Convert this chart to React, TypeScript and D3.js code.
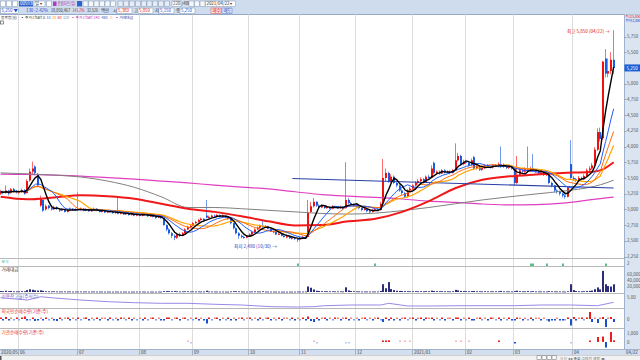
import React from 'react';
import * as d3 from 'd3';

// months shown on the date axis and trading days in each
const monthLabels = ['2020/05', '06', '07', '08', '09', '10', '11', '12', '2021/01', '02', '03', '04'];
const monthDays = [7, 22, 23, 20, 21, 19, 21, 21, 20, 18, 22, 16];

const priceTicks = [2250, 2500, 2750, 3000, 3250, 3500, 3750, 4000, 4250, 4500, 4750, 5000, 5500, 5750];
const volTicks = [20000, 40000, 60000];

// daily candles (May-20 .. Apr-21)
const opens = [
  3250, 3290, 3260, 3300, 3260, 3320, 3290,
  3270, 3280, 3310, 3260, 3460, 3600, 3680, 3560, 3060, 3150, 3000, 3060, 3020, 3000, 3030, 3010, 2980, 3000, 2960, 2990, 3010, 2990,
  3000, 2990, 3010, 2980, 3000, 2970, 2990, 3010, 2980, 2960, 2980, 2950, 2970, 2960, 2940, 2960, 2930, 2950, 2920, 2940, 2910, 2930, 2900,
  2920, 2900, 2930, 2910, 2890, 2900, 2880, 2870, 2890, 2860, 2750, 2680, 2620, 2580, 2550, 2600, 2580, 2620, 2680, 2720,
  2740, 2780, 2800, 2830, 2850, 2900, 2870, 2880, 2900, 2890, 2910, 2880, 2900, 2870, 2850, 2780, 2700, 2620, 2580, 2560, 2550,
  2570, 2600, 2640, 2680, 2710, 2740, 2720, 2730, 2690, 2650, 2640, 2600, 2610, 2580, 2560, 2570, 2540, 2550, 2530,
  2520, 2540, 2560, 2560, 2960, 3050, 3120, 3060, 3030, 3060, 3020, 3040, 3010, 3050, 3030, 3020, 3040, 3020, 3150, 3100, 3080,
  3060, 3050, 3020, 2990, 3010, 2970, 2960, 2980, 3000, 2990, 3100, 3500, 3580, 3450, 3520, 3420, 3380, 3300, 3260, 3200, 3300,
  3330, 3380, 3420, 3450, 3480, 3430, 3520, 3500, 3740, 3580, 3600, 3570, 3620, 3590, 3600, 3580, 3620, 3780, 3850, 3720,
  3760, 3740, 3700, 3830, 3650, 3680, 3630, 3660, 3700, 3680, 3670, 3700, 3690, 3720, 3680, 3700, 3660, 3680,
  3650, 3420, 3550, 3620, 3600, 3640, 3610, 3650, 3620, 3600, 3570, 3590, 3550, 3560, 3420, 3380, 3300, 3280, 3250, 3220, 3200, 3720,
  3500, 3480, 3460, 3500, 3480, 3530, 3620, 3650, 3700, 3950, 4230, 4130, 5400, 5160, 5200, 5380,
];
const highs = [
  3310, 3300, 3380, 3310, 3340, 3340, 3310,
  3300, 3330, 3320, 3480, 3650, 3760, 3700, 3580, 3220, 3160, 3080, 3070, 3040, 3060, 3050, 3020, 3020, 3010, 3010, 3030, 3020, 3020,
  3270, 3030, 3020, 3020, 3010, 3000, 3030, 3020, 2990, 3000, 2990, 2990, 2980, 2970, 2980, 3180, 2970, 2960, 2960, 2950, 2950, 2940, 2940,
  2930, 2950, 2940, 2920, 2920, 2910, 2890, 2900, 2900, 2870, 2760, 2700, 2640, 2600, 2620, 2630, 2640, 2700, 2740, 2760,
  2800, 2820, 2850, 2870, 2860, 3150, 2900, 2920, 2920, 2930, 2920, 2920, 2910, 2880, 2860, 2790, 2710, 2640, 2600, 2580, 2590,
  2620, 2660, 2700, 2730, 2760, 2820, 2750, 2740, 2700, 2670, 2650, 2630, 2620, 2590, 2590, 2580, 2570, 2560, 2550,
  2560, 2580, 2580, 3150, 3120, 3180, 3130, 3080, 3080, 3070, 3060, 3050, 3070, 3060, 3050, 3060, 3050, 3750, 3180, 3120, 3100,
  3080, 3060, 3030, 3030, 3020, 2990, 3000, 3020, 3020, 3120, 3800, 3650, 3600, 3560, 3540, 3440, 3400, 3320, 3280, 3320, 3360,
  3400, 3450, 3480, 3510, 3500, 3540, 3550, 3700, 3760, 3620, 3620, 3640, 3640, 3620, 3620, 3640, 4050, 3900, 3870, 3790,
  3790, 3760, 3810, 3850, 3710, 3700, 3690, 3720, 3720, 3700, 3720, 3720, 3750, 4000, 3730, 3720, 3710, 3700,
  3660, 3850, 3660, 3650, 3670, 4000, 3680, 3880, 3640, 3620, 3610, 3600, 3580, 3570, 3440, 3390, 3320, 3300, 3270, 3240, 3370, 4100,
  3530, 3500, 3530, 3520, 3560, 3650, 3690, 3740, 3990, 4290, 4300, 5360, 5550, 5400, 5500, 5850,
];
const lows = [
  3230, 3240, 3250, 3220, 3250, 3270, 3250,
  3240, 3260, 3230, 3250, 3440, 3560, 3540, 3360, 3040, 2960, 2980, 3000, 2980, 2990, 2990, 2960, 2970, 2950, 2950, 2980, 2980, 2980,
  2980, 2980, 2970, 2970, 2960, 2960, 2980, 2970, 2950, 2950, 2940, 2940, 2950, 2930, 2930, 2920, 2920, 2910, 2910, 2900, 2900, 2890, 2890,
  2890, 2890, 2900, 2880, 2880, 2870, 2850, 2860, 2850, 2740, 2650, 2600, 2540, 2510, 2530, 2560, 2570, 2610, 2670, 2700,
  2730, 2770, 2790, 2820, 2800, 2860, 2860, 2870, 2880, 2880, 2870, 2870, 2860, 2830, 2760, 2680, 2600, 2530, 2540, 2530, 2540,
  2560, 2590, 2630, 2670, 2700, 2710, 2710, 2680, 2640, 2620, 2590, 2590, 2570, 2550, 2540, 2530, 2520, 2510, 2480,
  2500, 2530, 2530, 2550, 2940, 3030, 3040, 3010, 3020, 3010, 3010, 3000, 3000, 3020, 3010, 3010, 3000, 3010, 3080, 3060, 3040,
  3030, 3000, 2970, 2980, 2950, 2940, 2950, 2970, 2980, 2980, 3090, 3450, 3420, 3420, 3400, 3350, 3280, 3230, 3180, 3190, 3280,
  3310, 3360, 3400, 3430, 3410, 3420, 3480, 3490, 3560, 3560, 3550, 3560, 3570, 3570, 3560, 3570, 3610, 3760, 3700, 3700,
  3720, 3680, 3690, 3630, 3630, 3610, 3610, 3640, 3660, 3650, 3650, 3670, 3680, 3660, 3660, 3640, 3640, 3630,
  3380, 3400, 3530, 3580, 3580, 3590, 3590, 3600, 3580, 3550, 3550, 3530, 3530, 3400, 3350, 3270, 3250, 3220, 3190, 3170, 3190, 3480,
  3450, 3430, 3450, 3460, 3470, 3520, 3600, 3630, 3690, 3930, 4080, 4100, 5100, 5100, 5150, 5150,
];
const closes = [
  3280, 3260, 3300, 3250, 3320, 3290, 3270,
  3280, 3300, 3250, 3450, 3600, 3650, 3580, 3380, 3180, 2980, 3050, 3020, 3000, 3030, 3010, 2980, 3000, 2960, 2990, 3010, 2990, 3000,
  2990, 3010, 2980, 3000, 2970, 2990, 3010, 2980, 2960, 2980, 2950, 2970, 2960, 2940, 2960, 2930, 2950, 2920, 2940, 2910, 2930, 2900, 2920,
  2900, 2930, 2910, 2890, 2900, 2880, 2870, 2890, 2860, 2750, 2680, 2620, 2580, 2550, 2600, 2580, 2620, 2680, 2720, 2740,
  2780, 2800, 2830, 2850, 2820, 2870, 2880, 2900, 2890, 2910, 2880, 2900, 2870, 2850, 2780, 2700, 2620, 2580, 2560, 2550, 2570,
  2600, 2640, 2680, 2710, 2740, 2720, 2730, 2690, 2650, 2640, 2600, 2610, 2580, 2560, 2570, 2540, 2550, 2530, 2520,
  2540, 2560, 2550, 2950, 3050, 3120, 3060, 3030, 3060, 3020, 3040, 3010, 3050, 3030, 3020, 3040, 3010, 3150, 3100, 3080, 3060,
  3050, 3020, 2990, 3010, 2970, 2960, 2980, 3000, 2990, 3090, 3500, 3580, 3450, 3520, 3420, 3380, 3300, 3260, 3200, 3300, 3330,
  3380, 3420, 3450, 3480, 3430, 3520, 3500, 3650, 3580, 3600, 3570, 3620, 3590, 3600, 3580, 3620, 3780, 3850, 3720, 3760,
  3740, 3700, 3780, 3650, 3680, 3630, 3660, 3700, 3680, 3670, 3700, 3690, 3720, 3680, 3700, 3660, 3680, 3650,
  3420, 3550, 3620, 3600, 3640, 3610, 3650, 3620, 3600, 3570, 3590, 3550, 3560, 3420, 3380, 3300, 3280, 3250, 3220, 3200, 3350, 3500,
  3480, 3460, 3500, 3480, 3530, 3620, 3650, 3700, 3950, 4230, 4120, 5350, 5160, 5200, 5380, 5250,
];

// 거래대금 (백만원)
const tradeValue = [
  3200, 2400, 4100, 2600, 3500, 2200, 2000,
  2100, 2600, 2300, 6200, 9100, 7400, 5200, 4800, 5600, 3900, 2500, 2200, 1900, 2400, 1800, 1700, 1600, 1900, 1500, 1800, 1400, 1600,
  1500, 1700, 1400, 1600, 1300, 1500, 1700, 1400, 1300, 1500, 1200, 1400, 1300, 1200, 1500, 1100, 1300, 1200, 1400, 1100, 1300, 1200, 1400,
  1300, 1500, 1200, 1100, 1300, 1200, 1100, 1400, 1200, 2800, 3100, 2600, 2400, 2900, 2200, 1800, 1900, 2300, 2100, 1800,
  1900, 1700, 1800, 1600, 1500, 4200, 1700, 1600, 1400, 1500, 1300, 1400, 1300, 1200, 2100, 2600, 2400, 2000, 1700, 1500, 1400,
  1500, 1800, 1900, 1700, 1600, 2400, 1500, 1400, 1300, 1400, 1200, 1300, 1100, 1200, 1100, 1300, 1000, 1200, 1500,
  1400, 1600, 1500, 18500, 14200, 8300, 4100, 3200, 2800, 2500, 2300, 2100, 2400, 2000, 1900, 2200, 1800, 15600, 5200, 3100, 2600,
  2200, 1900, 1700, 1800, 1600, 1500, 1700, 1600, 1800, 3500, 26000, 12500, 33000, 9800, 6200, 4100, 3500, 3200, 2900, 2600, 2400,
  2500, 2700, 2300, 2600, 2200, 2800, 2400, 4600, 3300, 2600, 2400, 2700, 2300, 2200, 2100, 2500, 7200, 5400, 3600, 3000,
  2600, 2400, 3100, 3400, 2500, 2300, 2200, 2400, 2100, 2000, 2200, 2100, 2300, 3600, 2100, 2000, 1900, 1800,
  2900, 4300, 2600, 2200, 2100, 3200, 2000, 2800, 1900, 1800, 1900, 1800, 1700, 2600, 2200, 2000, 1800, 1700, 1600, 1500, 2400, 26000,
  6400, 3100, 2500, 2200, 2600, 3300, 3600, 4800, 9400, 15200, 8600, 70500, 25800, 19800, 18200, 25600,
];

// 외국인 순매수량 (천주)
const foreignNet = [
  1, -1, 2, -1, 0.5, -0.5, 1,
  -0.5, 1, 2.5, -1, -0.5, 1, -2, -1.5, 0.5, -1, 1, -0.5, 0.5, -1, -2, 1, -0.5, 0.5, 1, -1, 0.5, -0.5,
  1, -0.5, 0.5, 1, -1, 0.5, -0.5, 1, -1, 0.5, 0.5, -1, 1, -0.5, 0.5, -1, 1, 0.5, -0.5, 1, -1, 0.5, -0.5,
  0.5, -1, 1, -0.5, 0.5, 1, -0.5, 0.5, -1, -1.5, 1, 1.5, -0.5, 0.5, 1, -1, 0.5, 1.5, -0.5, 0.5,
  -0.5, 1, -1, 0.5, -1, -4.5, 1, -0.5, 0.5, 1, -1, 0.5, -0.5, 1, -1, 0.5, -1, 0.5, 1, -0.5, 0.5,
  1, -0.5, 0.5, -1, 1, -0.5, 0.5, 1, -1, 0.5, -0.5, 1, -1, 0.5, 0.5, -0.5, 1, -1, 0.5,
  -0.5, 1, -1, 2.5, -2, -3, 1.5, -1, 0.5, 1, -1, 0.5, -0.5, 1, 0.5, -1, 0.5, 1.5, -1, 0.5, -0.5,
  0.5, -1, 0.5, 1, -0.5, 0.5, -1, 0.5, 1, -0.5, -3, 1.5, -1, 1, -1.5, 0.5, -1, 0.5, 1, -0.5, 0.5,
  1, -1, 0.5, 1, -1.5, 1, 0.5, 1.5, -1, 0.5, -0.5, 1, -1, 0.5, 0.5, -1, 1.5, 1, -1, 0.5,
  -0.5, 1, -1, -1.5, 0.5, 1, -0.5, 0.5, -1, 1, 0.5, -0.5, 1, -1, 0.5, -0.5, 1, -1,
  -1.5, 1, 0.5, -1, 0.5, -0.5, 1, -1, 0.5, 0.5, -1, 0.5, -0.5, -2.5, -1.5, -1, 0.5, -1.5, -1, -0.5, 1.5, -6.5,
  2, -1, 0.5, 1.5, -0.5, 1, 7, -3, 0.5, -4, 0.5, 2, -8, 0.5, 2, -3,
];

// 기관 순매수량 (주) — only days with prints
const instIdx = [70, 71, 117, 118, 129, 130, 143, 144, 145, 149, 151, 153, 170, 172, 175, 186, 192, 213, 220, 223, 225, 226, 228, 229];
const instNet = [20, -20, 30, -30, -40, -30, 150, 80, 180, 40, 30, 40, 40, 30, 30, 120, -120, -40, 80, 550, 600, -620, 1100, 180];

// signal markers
const signalIdx = [111, 140, 198, 199, 204, 210, 226];

// long moving averages read at sample days
const longMaIdx = [0, 10, 20, 30, 40, 50, 60, 70, 80, 90, 100, 110, 120, 130, 140, 150, 160, 170, 180, 190, 200, 210, 220, 224, 229];
const ma60 = [3200, 3160, 3190, 3225, 3210, 3170, 3090, 3010, 2960, 2890, 2810, 2745, 2750, 2810, 2850, 2960, 3130, 3340, 3470, 3525, 3555, 3580, 3595, 3620, 3750];
const ma120 = [3580, 3565, 3545, 3515, 3450, 3350, 3200, 3030, 3030, 3010, 2985, 2960, 2935, 2925, 2940, 2980, 3030, 3090, 3150, 3200, 3245, 3290, 3350, 3390, 3465];
const ma240 = [3560, 3555, 3545, 3530, 3505, 3480, 3450, 3420, 3385, 3355, 3325, 3280, 3235, 3210, 3190, 3165, 3130, 3110, 3085, 3070, 3075, 3100, 3150, 3170, 3195];

// 신용잔고율 (%)
const creditIdx = [0, 10, 15, 20, 30, 40, 50, 60, 70, 80, 90, 101, 111, 117, 121, 131, 142, 145, 152, 162, 172, 182, 192, 202, 213, 223, 229];
const creditRatio = [4.97, 4.64, 5.11, 4.93, 4.64, 4.4, 4.26, 4.17, 4.17, 4.03, 3.93, 3.69, 3.64, 3.69, 3.83, 3.93, 3.93, 4.17, 3.79, 3.79, 3.83, 3.83, 3.83, 3.93, 3.93, 3.83, 4.31];

// user trend line
const trendIdx = [109, 229];
const trendVal = [3490, 3340];

// legend pieces: text, colour
const legendText = ['종목명(일)', '▪ 주가 Chart 5', '10', '20', '60', '120', '▪ 주가 Chart 240', '480', 'ㅁ', '▪ 거래대금'];
const legendColor = ['#333', '#333', '#1f5bff', '#ff8c00', '#f01010', '#888', '#c030b0', '#3050c0', '#ff8c00', '#2030a0'];

const FONT = "'Noto Sans CJK KR', 'Noto Sans', sans-serif";
const UP = '#f01010';
const DOWN = '#1a5ce0';

export default function App() {
  const n = closes.length;
  const axisX = 624;

  const x = d3.scaleBand<number>().domain(d3.range(n)).range([-0.7, 615]);
  const step = x.step();
  const cx = (i: number) => (x(i) ?? 0) + step / 2;

  const y = d3.scaleLinear().domain([2250, 5750]).range([256.5, 36.5]);
  const yVol = d3.scaleLinear().domain([0, 100000]).range([292, 262]);
  const yCredit = d3.scaleLinear().domain([3.5, 5.5]).range([308, 294]);
  const yForeign = d3.scaleLinear().domain([-10, 10]).range([329, 309]);
  const yInst = d3.scaleLinear().domain([-780, 1442]).range([349, 329]);

  const monthStart = monthDays.map((_, k) => d3.sum(monthDays.slice(0, k)));
  const gridX = monthStart.map(i => Math.round(x(i) ?? 0) + 0.5);

  // short MAs from closes
  const sma = (p: number) => closes.map((_, i) => d3.mean(closes.slice(Math.max(0, i - p + 1), i + 1)) as number);
  const shortMas = [
    { p: 20, color: '#ffa500', w: 1.2 },
    { p: 15, color: '#ff6a10', w: 1 },
    { p: 10, color: '#1f5bff', w: 1 },
    { p: 5, color: '#000000', w: 1.4 },
  ];
  const lineShort = d3.line<number>().x((_, i) => cx(i)).y(d => y(d));
  const lineLong = d3.line<number>().x((_, k) => cx(longMaIdx[k])).y(d => y(d)).curve(d3.curveMonotoneX);
  const lineCredit = d3.line<number>().x((_, k) => cx(creditIdx[k])).y(d => yCredit(d));

  const iMax = d3.maxIndex(highs);
  const iMin = d3.minIndex(lows);
  const fmt = d3.format(',');
  const last = closes[n - 1];

  const sep = [258.5, 266.5, 293.5, 308.5, 328.5];

  // legend layout: start x of each piece
  const legendX = [1, 20.5, 46.5, 52, 57.5, 63, 71, 101.5, 109.5, 115];

  const icon = (xx: number, yy: number, fill = '#fff', key?: any) => (
    <rect key={key ?? xx} x={xx} y={yy} width={5} height={5.5} fill={fill} stroke="#7f93b0" strokeWidth={0.5} />
  );

  return (
    <svg width={640} height={360} style={{ position: 'fixed', left: 0, top: 0, background: '#fff' }} fontFamily={FONT}>
      <defs>
        <clipPath id="mainClip"><rect x={0} y={14.5} width={axisX} height={244} /></clipPath>
      </defs>
      <rect x={0} y={0} width={640} height={360} fill="#fff" />

      {/* toolbar */}
      <g fontSize={4.4}>
        <rect x={0} y={0} width={640} height={14.5} fill="#cfdcee" />
        <line x1={0} x2={640} y1={14.5} y2={14.5} stroke="#93a9c8" />
        {[0.5, 6.5, 12.5].map(v => icon(v, 1))}
        <rect x={19} y={1} width={14} height={5.5} fill="#2f64cf" />
        <text x={20} y={5.3} fill="#fff">005930</text>
        <rect x={34} y={1} width={11} height={5.5} fill="#fff" stroke="#7f93b0" strokeWidth={0.5} />
        <text x={35} y={5.3} fill="#333">일 ▾</text>
        {icon(46.5, 1)}
        <rect x={53} y={1.5} width={3.5} height={4.5} fill="#b23cc2" />
        <text x={57.5} y={5.3} fill="#b0309a" textLength={18} lengthAdjust="spacingAndGlyphs">종합차트(일)</text>
        <rect x={77} y={1} width={5} height={5.5} fill="#2f64cf" />
        {d3.range(6).map(k => icon(83 + k * 5.5, 1, '#f4f7fb', 'a' + k))}
        {d3.range(9).map(k => icon(118 + k * 5.8, 1, '#e6edf6', 'b' + k))}
        <rect x={172} y={1} width={9} height={5.5} fill="#fff" stroke="#7f93b0" strokeWidth={0.5} />
        <text x={173} y={5.3} fill="#333">220</text>
        <text x={181.5} y={5.3} fill="#333">/480</text>
        {[189, 194.5, 200].map((v, k) => icon(v, 1, '#f4f7fb', 'c' + k))}
        <rect x={205.5} y={1} width={30} height={5.5} fill="#fff" stroke="#7f93b0" strokeWidth={0.5} />
        <text x={206.5} y={5.3} fill="#333">2021/04/22 ▾</text>

        <rect x={0.5} y={8} width={18} height={5.5} fill="#fff" stroke="#7f93b0" strokeWidth={0.5} />
        <text x={1.5} y={12.3} fill="#1d4fd0">{fmt(last)} ▼</text>
        <text x={26} y={12.3} fill="#1d4fd0">130</text>
        <text x={34} y={12.3} fill="#1d4fd0">-2.42%</text>
        <text x={51} y={12.3} fill="#333" textLength={19} lengthAdjust="spacingAndGlyphs">18,050,467</text>
        <text x={72.5} y={12.3} fill="#e02020" textLength={12} lengthAdjust="spacingAndGlyphs">141.2%</text>
        <text x={87} y={12.3} fill="#333" textLength={11} lengthAdjust="spacingAndGlyphs">32,526</text>
        <text x={101} y={12.3} fill="#333">백만</text>
        <text x={113} y={12.3} fill="#333">시</text>
        <rect x={117} y={8} width={15} height={5.5} fill="#fff" stroke="#7f93b0" strokeWidth={0.5} />
        <text x={118} y={12.3} fill="#e02020">{fmt(opens[n - 1])}</text>
        <text x={134} y={12.3} fill="#333">고</text>
        <rect x={138} y={8} width={15} height={5.5} fill="#fff" stroke="#7f93b0" strokeWidth={0.5} />
        <text x={139} y={12.3} fill="#e02020">{fmt(highs[n - 1])}</text>
        <text x={155} y={12.3} fill="#333">저</text>
        <rect x={159} y={8} width={15} height={5.5} fill="#fff" stroke="#7f93b0" strokeWidth={0.5} />
        <text x={160} y={12.3} fill="#1d4fd0">{fmt(lows[n - 1])}</text>
        <text x={176} y={12.3} fill="#333">종</text>
        <rect x={180} y={8} width={15} height={5.5} fill="#fff" stroke="#7f93b0" strokeWidth={0.5} />
        <text x={181} y={12.3} fill="#1d4fd0">{fmt(last)}</text>
        <rect x={211} y={8} width={10} height={5.5} fill="#fde2e2" stroke="#e05050" strokeWidth={0.5} />
        <text x={212.5} y={12.3} fill="#d02020">매수</text>
        <rect x={222} y={8} width={10} height={5.5} fill="#e3ebfb" stroke="#5070d0" strokeWidth={0.5} />
        <text x={223.5} y={12.3} fill="#2040b0">매도</text>
      </g>

      {/* month grid */}
      {gridX.slice(1).map((gx, k) => (
        <line key={k} x1={gx} x2={gx} y1={14.5} y2={349} stroke="#dcdcdc" strokeWidth={1} />
      ))}

      {/* legend */}
      {legendText.map((t, k) => (
        <text key={k} x={legendX[k]} y={19.2} fontSize={3.7} fill={legendColor[k]}>{t}</text>
      ))}
      <rect x={0.5} y={21} width={3} height={3} fill="#fff" stroke="#444" strokeWidth={0.6} />

      {/* main price panel */}
      <g clipPath="url(#mainClip)">
        {closes.map((c, i) => {
          const o = opens[i];
          const up = c >= o;
          const col = up ? UP : DOWN;
          const px = Math.round(cx(i) - 1);
          const top = y(Math.max(o, c));
          const bot = y(Math.min(o, c));
          return (
            <g key={i}>
              <line x1={px + 0.5} x2={px + 0.5} y1={y(Math.max(highs[i], o, c))} y2={y(Math.min(lows[i], o, c))}
                stroke={up ? '#ff6a6a' : '#6f9af0'} strokeWidth={1} />
              <rect x={px} y={top} width={2} height={Math.max(1, bot - top)} fill={col} />
            </g>
          );
        })}
        <path d={lineLong(ma240) ?? ''} fill="none" stroke="#e040c0" strokeWidth={1.2} />
        <path d={lineLong(ma120) ?? ''} fill="none" stroke="#808080" strokeWidth={1} />
        <path d={lineLong(ma60) ?? ''} fill="none" stroke="#f01818" strokeWidth={2} />
        <line x1={cx(trendIdx[0])} x2={cx(trendIdx[1])} y1={y(trendVal[0])} y2={y(trendVal[1])} stroke="#2a3fa8" strokeWidth={1.1} />
        {shortMas.map(m => (
          <path key={m.p} d={lineShort(sma(m.p)) ?? ''} fill="none" stroke={m.color} strokeWidth={m.w} />
        ))}
        <text x={cx(iMax) - 4} y={y(highs[iMax]) + 3} fontSize={4.6} fill="#e02020" textAnchor="end">
          최고 {fmt(highs[iMax])} (04/22) →
        </text>
        <text x={cx(iMin) - 21} y={y(lows[iMin]) + 5.5} fontSize={4.6} fill="#2040c0" textAnchor="end">
          최저 {fmt(lows[iMin])} (10/30) →
        </text>
      </g>

      {/* panel separators */}
      {sep.map(v => <line key={v} x1={0} x2={axisX} y1={v} y2={v} stroke="#b8b8b8" />)}

      {/* signal row */}
      <text x={1.5} y={263} fontSize={3.8} fill="#3cb371">분석</text>
      {signalIdx.map(i => (
        <rect key={i} x={Math.round(cx(i) - 1)} y={263.5} width={2} height={2.5} fill="#5cc08a" />
      ))}

      {/* trade value */}
      <text x={1.5} y={271} fontSize={4.6} fill="#333">거래대금</text>
      {tradeValue.map((v, i) => (
        <rect key={i} x={Math.round(cx(i) - 1)} y={yVol(v)} width={2} height={Math.max(0.8, yVol(0) - yVol(v))} fill="#2c2c7c" />
      ))}

      {/* credit ratio */}
      <text x={1.5} y={298} fontSize={4.6} fill="#6a5acd">신용잔고율(주식수)</text>
      <path d={lineCredit(creditRatio) ?? ''} fill="none" stroke="#9b88e6" strokeWidth={1} />

      {/* foreign net */}
      <text x={1.5} y={313} fontSize={4.6} fill="#e03030">외국인순매수량(기준:주)</text>
      {foreignNet.map((v, i) => {
        const y0 = yForeign(0), y1 = yForeign(v);
        const h = Math.max(1.5, Math.abs(y1 - y0));
        const pale = Math.abs(v) < 1;
        const col = v >= 0 ? (pale ? '#f08a8a' : '#ee1c1c') : (pale ? '#7fa3ea' : '#1a4fd0');
        return <rect key={i} x={Math.round(cx(i) - 1)} y={v >= 0 ? y0 - h : y0} width={2} height={h} fill={col} />;
      })}

      {/* institution net */}
      <text x={1.5} y={333.5} fontSize={4.6} fill="#e03030">기관순매수량(기준:주)</text>
      {instNet.map((v, k) => {
        const y0 = yInst(0), y1 = yInst(v);
        const h = Math.max(1.5, Math.abs(y1 - y0));
        const pale = Math.abs(v) < 60;
        const col = v >= 0 ? (pale ? '#f6b8b8' : '#ee1c1c') : (pale ? '#b8c8f0' : '#1a4fd0');
        return <rect key={k} x={Math.round(cx(instIdx[k]) - 1)} y={v >= 0 ? y0 - h : y0} width={2} height={h} fill={col} />;
      })}

      {/* right axis */}
      <rect x={axisX} y={14.5} width={16} height={335} fill="#dbe5f2" />
      <line x1={axisX + 0.5} x2={axisX + 0.5} y1={14.5} y2={349.5} stroke="#9fb3cf" />
      <g fontSize={4.5} fill="#555">
        <text x={625.5} y={17.5} fontSize={3.6} fill="#e02020">최고{fmt(highs[iMax])}</text>
        <text x={625.5} y={21.5} fontSize={3.6} fill="#2040c0">최저{fmt(lows[iMin])}</text>
        {priceTicks.map(v => (
          <g key={v}>
            <line x1={axisX + 0.5} x2={axisX + 2.5} y1={Math.round(y(v)) + 0.5} y2={Math.round(y(v)) + 0.5} stroke="#777" strokeWidth={0.6} />
            <text x={627} y={y(v) + 1.7}>{fmt(v)}</text>
          </g>
        ))}
        <rect x={axisX + 0.5} y={y(last) - 3.5} width={15.5} height={7} fill="#1b5fd6" />
        <text x={626.5} y={y(last) + 1.8} fill="#fff">{fmt(last)}</text>
        <text x={627} y={264.8}>2</text>
        {volTicks.map(v => (
          <text key={v} x={627} y={yVol(v) + 1.7}>{fmt(v)}</text>
        ))}
        <text x={627} y={yCredit(5) + 1.7}>5.00</text>
        <text x={627} y={yForeign(0) + 1.7}>0</text>
        <text x={627} y={yInst(1000) + 1.7}>1,000</text>
        <text x={627} y={yInst(0) + 1.7}>0</text>
      </g>

      {/* date axis */}
      <rect x={0} y={349.5} width={640} height={5.5} fill="#d3dfee" />
      <line x1={0} x2={640} y1={349.5} y2={349.5} stroke="#9fb3cf" />
      {monthLabels.map((m, k) => (
        <g key={m}>
          {k > 0 && <line x1={gridX[k]} x2={gridX[k]} y1={349.5} y2={355} stroke="#9fb3cf" />}
          <text x={k === 0 ? 1 : gridX[k] + 1.5} y={354.3} fontSize={4.5} fill="#444">{m}</text>
        </g>
      ))}
      <text x={626} y={354.3} fontSize={4.5} fill="#444">04/22</text>

      {/* bottom scroll strip */}
      <rect x={0} y={355} width={640} height={5} fill="#f2f2f2" />
      <line x1={0} x2={640} y1={355.5} y2={355.5} stroke="#d0d0d0" />
      <rect x={0} y={356} width={1.5} height={4} fill="#555" />
      {d3.range(4).map(k => (
        <rect key={k} x={537 + k * 5} y={355.8} width={4.2} height={3.6} fill="#fff" stroke="#666" strokeWidth={0.5} />
      ))}
      <text x={560} y={359.6} fontSize={3.8} fill="#555">ㅁㅁ ◂ ▸ 조회 그리기 설정 ◂ ▸</text>
    </svg>
  );
}
